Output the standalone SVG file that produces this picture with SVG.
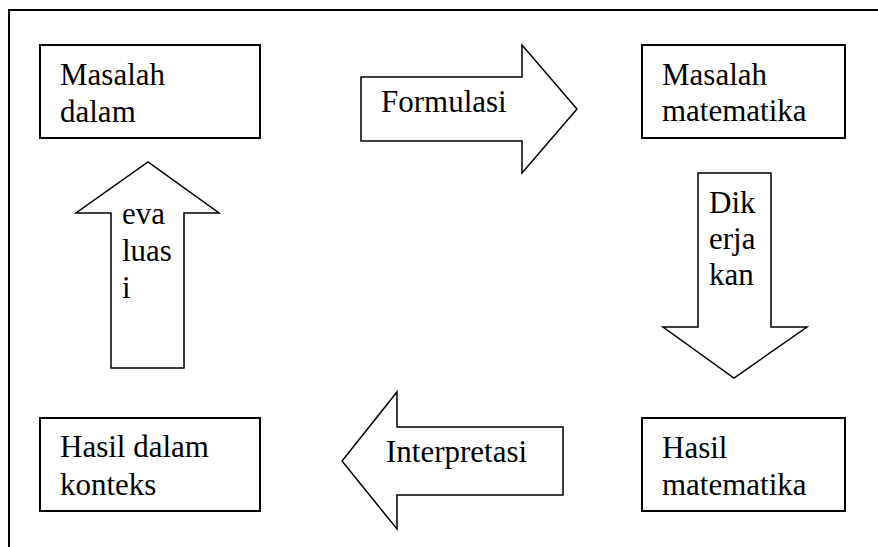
<svg xmlns="http://www.w3.org/2000/svg" width="878" height="547" viewBox="0 0 878 547">
<style>
.box{fill:#fff;stroke:#000;stroke-width:2}
.arr{fill:#fff;stroke:#000;stroke-width:1.5;stroke-linejoin:miter}
text{font-family:"Liberation Serif","Times New Roman",serif;font-size:31px;fill:#000}
.frame{stroke:#000;stroke-width:2;fill:none}
</style>
<rect width="878" height="547" fill="#fff"/>
<path class="frame" d="M9,547 V10 H878"/>
<g id="n-masalah-dalam">
<rect class="box" x="40" y="45" width="220" height="93"/>
<text x="60" y="85">Masalah</text>
<text x="60" y="122">dalam</text>
</g>
<g id="n-masalah-matematika">
<rect class="box" x="642" y="45" width="203" height="93"/>
<text x="662" y="85">Masalah</text>
<text x="662" y="121">matematika</text>
</g>
<g id="n-hasil-dalam-konteks">
<rect class="box" x="40" y="418" width="220" height="93"/>
<text x="60" y="457">Hasil dalam</text>
<text x="60" y="495">konteks</text>
</g>
<g id="n-hasil-matematika">
<rect class="box" x="642" y="418" width="203" height="93"/>
<text x="662" y="458">Hasil</text>
<text x="662" y="495">matematika</text>
</g>
<g id="connectors">
<g id="c-formulasi">
<polygon class="arr" points="361,77 522,77 522,45 577,109 522,173 522,141 361,141"/>
<text x="381" y="112">Formulasi</text>
</g>
<g id="c-dikerjakan">
<polygon class="arr" points="698,173 771,173 771,327 807,327 734,378 663,327 698,327"/>
<text x="709" y="213">Dik</text>
<text x="709" y="249">erja</text>
<text x="709" y="285">kan</text>
</g>
<g id="c-interpretasi">
<polygon class="arr" points="563,427 563,495 397,495 397,529 342,461 397,392 397,427"/>
<text x="386" y="462">Interpretasi</text>
</g>
<g id="c-evaluasi">
<polygon class="arr" points="111,368 184,368 184,213 219,213 148,162 76,213 111,213"/>
<text x="122" y="224">eva</text>
<text x="122" y="261">luas</text>
<text x="122" y="298">i</text>
</g>
</g>
</svg>
